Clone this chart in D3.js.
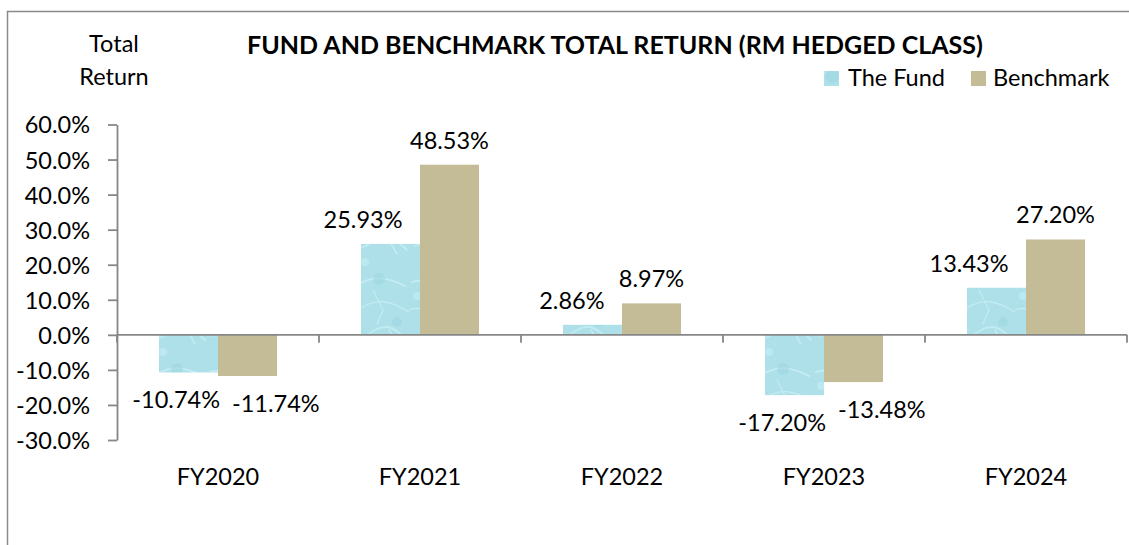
<!DOCTYPE html>
<html>
<head>
<meta charset="utf-8">
<script src="https://cdn.jsdelivr.net/npm/d3@7"></script>
<style>
  html, body { margin: 0; padding: 0; background: #fff; }
  svg { display: block; }
  text { font-family: Lato, "Noto Sans", sans-serif; fill: #000; }
</style>
</head>
<body>
<svg id="chart" width="1129" height="545"></svg>
<script>
// ---- data ----
const categories = ["FY2020", "FY2021", "FY2022", "FY2023", "FY2024"];
const seriesNames = ["The Fund", "Benchmark"];
const fundValues = [-10.74, 25.93, 2.86, -17.20, 13.43];
const benchmarkValues = [-11.74, 48.53, 8.97, -13.48, 27.20];
const yTicks = [-30, -20, -10, 0, 10, 20, 30, 40, 50, 60];
const titleText = "FUND AND BENCHMARK TOTAL RETURN (RM HEDGED CLASS)";
const yAxisTitle = ["Total", "Return"];

// ---- layout ----
const svg = d3.select("#chart");
const W = 1129, H = 545;
const plot = { left: 117, right: 1127, top: 124.5, bottom: 440 };
const axisColor = "#878787";
const benchColor = "#c4bc96";
const labelSize = 23.5;

// Outer frame (left + top edges visible)
svg.append("path")
  .attr("d", `M7.5,${H} L7.5,11.5 L${W},11.5`)
  .attr("fill", "none").attr("stroke", "#8a8a8a").attr("stroke-width", 1.5);

// Water-like texture pattern for the fund
const defs = svg.append("defs");
const pat = defs.append("pattern").attr("id", "water")
  .attr("patternUnits", "userSpaceOnUse").attr("width", 90).attr("height", 90);
pat.append("rect").attr("width", 90).attr("height", 90).attr("fill", "#ade0e9");
const light = "#c8eef3", dark = "#9bd5df";
[
  ["M3,12 C18,6 26,22 40,14 S66,6 86,16", light, 2.0],
  ["M0,40 C14,34 26,48 42,38 S70,30 90,42", light, 1.4],
  ["M6,66 C22,58 34,76 50,64 S74,56 88,70", light, 1.8],
  ["M54,20 L64,40 L58,54", light, 1.3],
  ["M14,44 L24,58 L12,78", light, 1.1],
  ["M70,60 L78,74", light, 1.6]
].forEach(([d, c, w]) => pat.append("path").attr("d", d).attr("fill", "none")
  .attr("stroke", c).attr("stroke-width", w).attr("stroke-linecap", "round").attr("opacity", 0.8));
[[22, 76, 7, dark], [60, 9, 6, dark], [78, 52, 5, dark], [34, 26, 5.5, dark], [46, 82, 4, light], [8, 26, 4, light]].forEach(([cx, cy, r, c]) =>
  pat.append("circle").attr("cx", cx).attr("cy", cy).attr("r", r).attr("fill", c).attr("opacity", 0.55));

// ---- scales ----
const y = d3.scaleLinear().domain([-30, 60]).range([plot.bottom, plot.top]);
const x0 = d3.scaleBand().domain(categories).range([plot.left, plot.right]).paddingInner(0).paddingOuter(0);
const x1 = d3.scaleBand().domain(seriesNames).range([0, x0.bandwidth()]).paddingInner(0).paddingOuter(0.712);
const colorFor = { "The Fund": "url(#water)", "Benchmark": benchColor };

const rows = categories.map((c, i) => ({
  cat: c,
  vals: [{ s: "The Fund", v: fundValues[i] }, { s: "Benchmark", v: benchmarkValues[i] }]
}));

// ---- bars ----
const groups = svg.append("g").selectAll("g").data(rows).join("g")
  .attr("transform", d => `translate(${x0(d.cat)},0)`);

groups.selectAll("rect").data(d => d.vals).join("rect")
  .attr("x", d => x1(d.s))
  .attr("width", x1.bandwidth())
  .attr("y", d => y(Math.max(0, d.v)))
  .attr("height", d => Math.abs(y(d.v) - y(0)))
  .attr("fill", d => colorFor[d.s]);

// ---- value labels ----
groups.selectAll("text.val").data(d => d.vals).join("text")
  .attr("class", "val")
  .style("font-size", labelSize + "px")
  .attr("text-anchor", d => {
    if (d.s === "The Fund") return "end";
    return d.v >= 0 ? "middle" : "start";
  })
  .attr("x", d => {
    const bx = x1(d.s), bw = x1.bandwidth();
    if (d.s === "The Fund") return d.v >= 0 ? bx + bw / 2 + 12 : bx + bw + 2;
    return d.v >= 0 ? bx + bw / 2 : bx + 14;
  })
  .attr("y", d => d.v >= 0 ? y(d.v) - 16 : y(d.v) + 36)
  .text(d => d.v.toFixed(2) + "%");

// ---- y axis ----
const yAxis = svg.append("g").attr("transform", `translate(${plot.left},0)`)
  .call(d3.axisLeft(y).tickValues(yTicks).tickSize(9).tickSizeOuter(0).tickPadding(18)
    .tickFormat(d => d.toFixed(1) + "%"));
yAxis.select(".domain").attr("stroke", axisColor).attr("stroke-width", 1.8);
yAxis.selectAll(".tick line").attr("stroke", axisColor).attr("stroke-width", 1.8);
yAxis.selectAll(".tick text").style("font-size", labelSize + "px")
  .style("font-family", "Lato, 'Noto Sans', sans-serif").attr("fill", "#000").attr("dy", "0.36em");

// ---- x axis (at zero) ----
const xg = svg.append("g");
xg.append("line").attr("x1", plot.left).attr("x2", plot.right)
  .attr("y1", y(0)).attr("y2", y(0))
  .attr("stroke", axisColor).attr("stroke-width", 1.8);
const boundaries = categories.map(c => x0(c)).concat([x0(categories[categories.length - 1]) + x0.bandwidth()]);
xg.selectAll("line.tk").data(boundaries).join("line").attr("class", "tk")
  .attr("x1", d => d).attr("x2", d => d)
  .attr("y1", y(0)).attr("y2", y(0) + 8)
  .attr("stroke", axisColor).attr("stroke-width", 1.8);
xg.selectAll("text.cat").data(categories).join("text").attr("class", "cat")
  .attr("x", d => x0(d) + x0.bandwidth() / 2)
  .attr("y", 485)
  .attr("text-anchor", "middle")
  .style("font-size", labelSize + "px")
  .text(d => d);

// ---- titles ----
svg.append("text").attr("x", 615).attr("y", 54).attr("text-anchor", "middle")
  .style("font-size", "25px").style("font-weight", "bold").text(titleText);
svg.selectAll("text.ytitle").data(yAxisTitle).join("text").attr("class", "ytitle")
  .attr("x", 114).attr("y", (d, i) => 52 + i * 33).attr("text-anchor", "middle")
  .style("font-size", labelSize + "px").text(d => d);

// ---- legend ----
const legendItems = [
  { name: seriesNames[0], sx: 824, tx: 848 },
  { name: seriesNames[1], sx: 971, tx: 993 }
];
const lg = svg.append("g");
lg.selectAll("rect").data(legendItems).join("rect")
  .attr("x", d => d.sx).attr("y", 71).attr("width", 15).attr("height", 15)
  .attr("fill", d => d.name === "The Fund" ? "url(#water)" : benchColor);
lg.selectAll("text").data(legendItems).join("text")
  .attr("x", d => d.tx).attr("y", 86)
  .style("font-size", labelSize + "px").text(d => d.name);
</script>
</body>
</html>
